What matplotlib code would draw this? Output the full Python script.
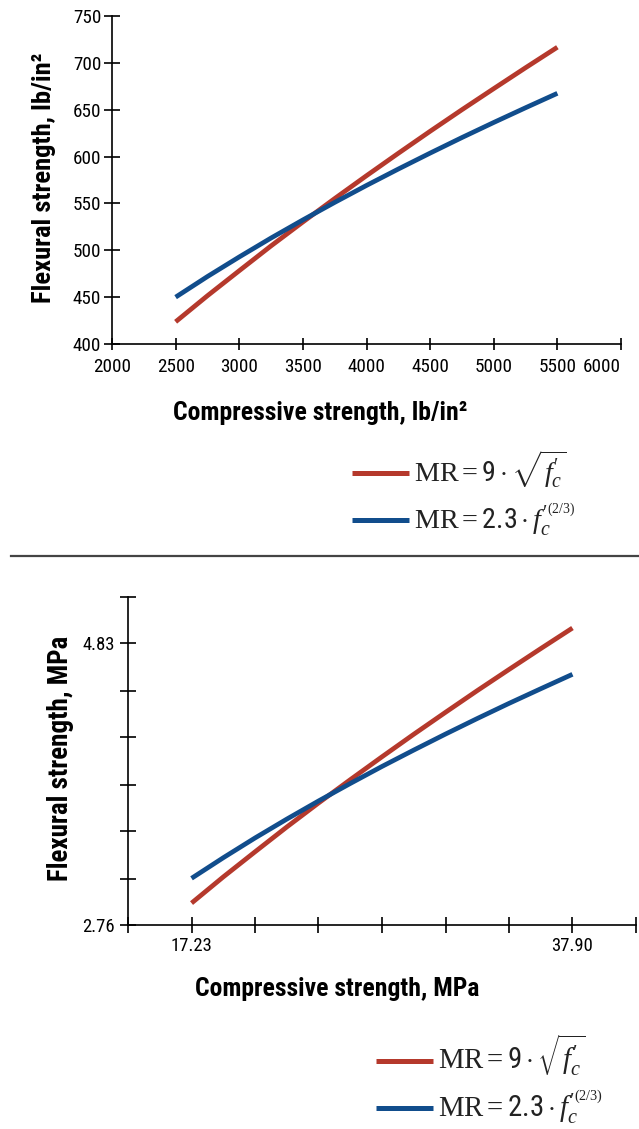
import matplotlib
matplotlib.use('Agg')
import matplotlib.pyplot as plt
import matplotlib.font_manager as fm
from matplotlib.lines import Line2D

# values
psi_x = [2500, 2750, 3000, 3250, 3500, 3750, 4000, 4250, 4500, 4750, 5000, 5250, 5500]
psi_red = [423.7, 451.5, 478.2, 504.7, 530.2, 555.2, 579.6, 603.5, 627.0, 650.0, 672.5, 694.8, 716.7]
psi_blue = [450.0, 472.0, 492.9, 513.1, 532.4, 551.1, 569.2, 586.7, 603.7, 620.3, 636.4, 652.1, 667.5]

mpa_x = [17.24, 18.96, 20.68, 22.41, 24.13, 25.86, 27.58, 29.30, 31.03, 32.75, 34.47, 36.20, 37.92]
mpa_red = [2.921, 3.113, 3.297, 3.480, 3.656, 3.828, 3.996, 4.161, 4.323, 4.482, 4.637, 4.791, 4.942]
mpa_blue = [3.103, 3.254, 3.399, 3.538, 3.671, 3.800, 3.925, 4.045, 4.163, 4.277, 4.388, 4.496, 4.602]

psi_xticks = [2000, 2500, 3000, 3500, 4000, 4500, 5000, 5500, 6000]
psi_yticks = [400, 450, 500, 550, 600, 650, 700, 750]
mpa_xticks = [13.79, 17.24, 20.68, 24.13, 27.58, 31.03, 34.47, 37.92, 41.37]
mpa_xlabels = ['', '17.23', '', '', '', '', '', '37.90', '']
mpa_yticks = [2.76, 3.10, 3.45, 3.79, 4.14, 4.48, 4.83, 5.17]
mpa_ylabels = ['2.76', '', '', '', '', '', '4.83', '']

labels = [r'$\mathrm{MR} = \mathsf{9} \cdot \sqrt{f_c^{\prime}}$',
          r'$\mathrm{MR} = \mathsf{2.3} \cdot f_c^{\prime^{(2/3)}}$']
colors = ['#b5392c', '#114d8c']

names = {f.name for f in fm.fontManager.ttflist}
cond = next((n for n in ['Roboto Condensed', 'Liberation Sans Narrow',
                         'Open Sans Condensed', 'DejaVu Sans Condensed']
             if n in names), 'Liberation Sans')

plt.rcParams['font.family'] = [cond, 'DejaVu Sans']
plt.rcParams['mathtext.fontset'] = 'custom'
plt.rcParams['mathtext.rm'] = 'Liberation Serif'
plt.rcParams['mathtext.it'] = 'Liberation Serif:italic'
plt.rcParams['mathtext.sf'] = cond

W, H = 639, 1129
fig = plt.figure(figsize=(W / 100, H / 100), dpi=100)
renderer = fig.canvas.get_renderer()


def fx(x):
    return x / W


def fy(y):
    return 1 - y / H


def fit(t, target, vertical=False):
    # scale a text so its rendered length matches the reference
    bb = t.get_window_extent(renderer)
    size = bb.height if vertical else bb.width
    t.set_fontsize(t.get_fontsize() * target / size)


def style(ax, xlen, ylen, xpad, ypad):
    for s in ['top', 'right']:
        ax.spines[s].set_visible(False)
    for s in ['left', 'bottom']:
        ax.spines[s].set_linewidth(1.2)
    ax.tick_params(direction='inout', width=1.2, labelsize=14)
    ax.tick_params(axis='x', length=xlen, pad=xpad)
    ax.tick_params(axis='y', length=ylen, pad=ypad)


# top chart (lb/in2)
ax1 = fig.add_axes([fx(112), fy(344), fx(621 - 112), 328 / H])
ax1.plot(psi_x, psi_red, color=colors[0], lw=3.4, solid_capstyle='butt')
ax1.plot(psi_x, psi_blue, color=colors[1], lw=3.4, solid_capstyle='butt')
ax1.set_xlim(2000, 6000)
ax1.set_ylim(400, 750)
ax1.set_xticks(psi_xticks)
ax1.set_yticks(psi_yticks)
style(ax1, 8, 11.5, 6, 2)

# bottom chart (MPa)
ax2 = fig.add_axes([fx(128), fy(925), fx(636 - 128), 328 / H])
ax2.plot(mpa_x, mpa_red, color=colors[0], lw=3.4, solid_capstyle='butt')
ax2.plot(mpa_x, mpa_blue, color=colors[1], lw=3.4, solid_capstyle='butt')
ax2.set_xlim(mpa_xticks[0], mpa_xticks[-1])
ax2.set_ylim(mpa_yticks[0], mpa_yticks[-1])
ax2.set_xticks(mpa_xticks, mpa_xlabels)
ax2.set_yticks(mpa_yticks, mpa_ylabels)
style(ax2, 11.5, 11.5, 3, 3.5)

# tick label sizes fitted to the reference widths
fig.canvas.draw()
lab = ax1.get_xticklabels()[0]
s1 = lab.get_fontsize() * 38 / lab.get_window_extent(renderer).width
ax1.tick_params(labelsize=s1)
lab = ax2.get_xticklabels()[1]
s2 = lab.get_fontsize() * 42 / lab.get_window_extent(renderer).width
ax2.tick_params(labelsize=s2)
ax1.get_xticklabels()[-1].set_ha('right')

# axis titles
t = fig.text(fx(320), fy(413), 'Compressive strength, lb/in²', fontsize=15,
             fontweight='bold', ha='center', va='center')
fit(t, 294)
t = fig.text(fx(44), fy(178), 'Flexural strength, lb/in²', fontsize=15,
             fontweight='bold', ha='center', va='center', rotation=90)
fit(t, 250, vertical=True)
t = fig.text(fx(337), fy(989), 'Compressive strength, MPa', fontsize=15,
             fontweight='bold', ha='center', va='center')
fit(t, 284)
t = fig.text(fx(60), fy(758), 'Flexural strength, MPa', fontsize=15,
             fontweight='bold', ha='center', va='center', rotation=90)
fit(t, 245, vertical=True)

# legends
for (x0, x1, ys, w0) in [(352, 409, [473, 520], 145), (376, 433, [1061, 1108], 148)]:
    size = None
    for lab, c, y in zip(labels, colors, ys):
        fig.add_artist(Line2D([fx(x0), fx(x1)], [fy(y), fy(y)], color=c,
                              lw=3.6, solid_capstyle='butt',
                              transform=fig.transFigure))
        t = fig.text(fx(x1 + 5), fy(y + 9), lab, fontsize=20, ha='left',
                     va='baseline', color='#222222')
        if size is None:
            fit(t, w0)
            size = t.get_fontsize()
        else:
            t.set_fontsize(size)

# separator
fig.add_artist(Line2D([fx(11), 1], [fy(556), fy(556)], color='#444444',
                      lw=1.6, transform=fig.transFigure))

fig.savefig('out.png', dpi=100)
